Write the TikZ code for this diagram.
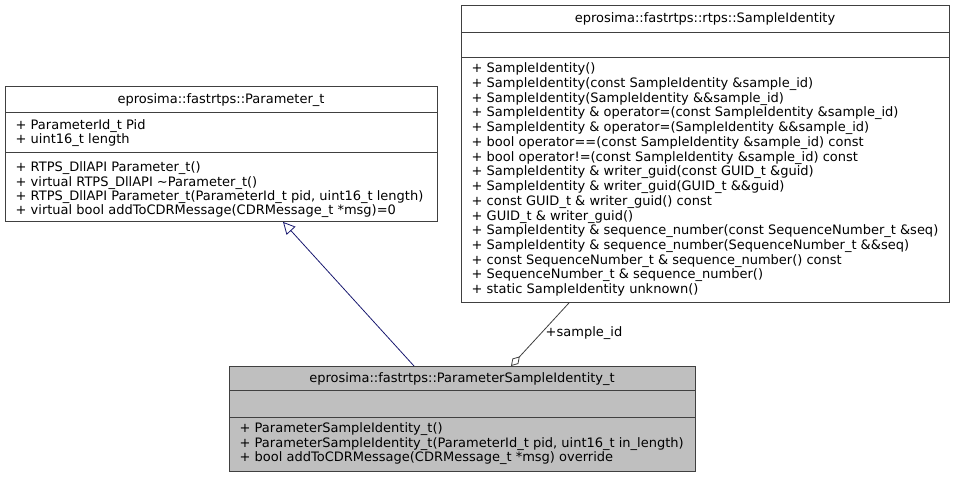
\documentclass[tikz,border=0pt]{standalone}
\usepackage{fontspec}
\setmainfont{DejaVu Sans}
\usetikzlibrary{arrows.meta,calc}
\definecolor{edgec}{HTML}{404040}
\definecolor{inhc}{HTML}{191970}
\definecolor{psifill}{HTML}{BFBFBF}
\begin{document}
\begin{tikzpicture}[x=1pt,y=-1pt,
  box/.style={draw=edgec, line width=0.9pt, inner sep=0pt, anchor=north west, fill=white},
  hdr/.style={font=\fontsize{13}{14.6}\selectfont, inner sep=0pt, anchor=base},
  txt/.style={font=\fontsize{13}{#1}\selectfont, align=left, inner sep=0pt, anchor=base west},
  sep/.style={draw=edgec, line width=0.9pt},
  inh/.style={draw=inhc, line width=0.8pt, -{Triangle[open, length=12pt, width=12pt]}},
  agg/.style={draw=edgec, line width=0.8pt, -{Diamond[open, length=13pt, width=8pt]}}]
\useasboundingbox (0,0) rectangle (954,477);
\fill[white] (0,0) rectangle (954,477);

% Parameter_t
\node[box, minimum width=432pt, minimum height=135pt] (pt) at (5,86) {};
\draw[sep] ($(pt.north west)+(0,26)$) -- ($(pt.north east)+(0,26)$);
\draw[sep] ($(pt.north west)+(0,66)$) -- ($(pt.north east)+(0,66)$);
\node[hdr] (pth) at (221,103.7) {eprosima::fastrtps::Parameter\_t};
\node[txt=14] (pta) at (15.5,143.7) {+ ParameterId\_t Pid\\+ uint16\_t length};
\node[txt=14.33] (ptm) at (15.5,214.7) {+ RTPS\_DllAPI Parameter\_t()\\+ virtual RTPS\_DllAPI \textasciitilde Parameter\_t()\\+ RTPS\_DllAPI Parameter\_t(ParameterId\_t pid, uint16\_t length)\\+ virtual bool addToCDRMessage(CDRMessage\_t *msg)=0};

% SampleIdentity
\node[box, minimum width=488pt, minimum height=297pt] (si) at (461,5) {};
\draw[sep] ($(si.north west)+(0,27)$) -- ($(si.north east)+(0,27)$);
\draw[sep] ($(si.north west)+(0,52)$) -- ($(si.north east)+(0,52)$);
\node[hdr] (sih) at (705,22.7) {eprosima::fastrtps::rtps::SampleIdentity};
\node[txt=14.73] (sim) at (471.5,293.7) {+ SampleIdentity()\\
+ SampleIdentity(const SampleIdentity \&sample\_id)\\
+ SampleIdentity(SampleIdentity \&\&sample\_id)\\
+ SampleIdentity \& operator=(const SampleIdentity \&sample\_id)\\
+ SampleIdentity \& operator=(SampleIdentity \&\&sample\_id)\\
+ bool operator==(const SampleIdentity \&sample\_id) const\\
+ bool operator!=(const SampleIdentity \&sample\_id) const\\
+ SampleIdentity \& writer\_guid(const GUID\_t \&guid)\\
+ SampleIdentity \& writer\_guid(GUID\_t \&\&guid)\\
+ const GUID\_t \& writer\_guid() const\\
+ GUID\_t \& writer\_guid()\\
+ SampleIdentity \& sequence\_number(const SequenceNumber\_t \&seq)\\
+ SampleIdentity \& sequence\_number(SequenceNumber\_t \&\&seq)\\
+ const SequenceNumber\_t \& sequence\_number() const\\
+ SequenceNumber\_t \& sequence\_number()\\
+ static SampleIdentity unknown()};

% ParameterSampleIdentity_t
\node[box, fill=psifill, minimum width=466pt, minimum height=105pt] (psi) at (229,366) {};
\draw[sep] ($(psi.north west)+(0,24)$) -- ($(psi.north east)+(0,24)$);
\draw[sep] ($(psi.north west)+(0,51)$) -- ($(psi.north east)+(0,51)$);
\node[hdr] (psih) at (462,382.7) {eprosima::fastrtps::ParameterSampleIdentity\_t};
\node[txt=14.5] (psim) at (239.5,461.7) {+ ParameterSampleIdentity\_t()\\+ ParameterSampleIdentity\_t(ParameterId\_t pid, uint16\_t in\_length)\\+ bool addToCDRMessage(CDRMessage\_t *msg) override};

% connectors
\coordinate (inhS) at ($(psi.north west)+(185,0)$);
\coordinate (inhE) at ($(pt.south west)+(278,0)$);
\draw[inh] (inhS) -- (inhE);
\coordinate (agS) at ($(si.south west)+(108,0)$);
\coordinate (agE) at ($(psi.north west)+(282,0)$);
\draw[agg] (agS) -- (agE);
\node[hdr] (agl) at (584,336.7) {+sample\_id};
\end{tikzpicture}
\end{document}
